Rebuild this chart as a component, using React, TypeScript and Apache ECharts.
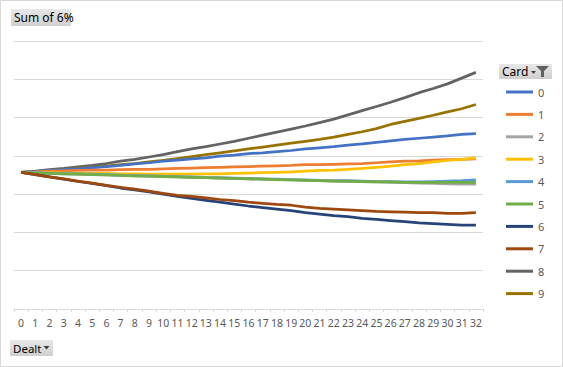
import React, { useEffect, useRef } from "react";
import * as echarts from "echarts";

const categories = Array.from({ length: 33 }, (_, i) => String(i));

const cardNames = ["0", "1", "2", "3", "4", "5", "6", "7", "8", "9"];

const card0 = [3.57, 3.59, 3.62, 3.64, 3.66, 3.69, 3.72, 3.75, 3.79, 3.82, 3.86, 3.89, 3.92, 3.95, 3.99, 4.02, 4.06, 4.08, 4.11, 4.14, 4.18, 4.21, 4.24, 4.28, 4.31, 4.35, 4.39, 4.43, 4.46, 4.49, 4.52, 4.56, 4.58];
const card1 = [3.57, 3.58, 3.6, 3.61, 3.62, 3.63, 3.63, 3.64, 3.65, 3.65, 3.66, 3.67, 3.68, 3.69, 3.7, 3.71, 3.72, 3.73, 3.74, 3.75, 3.77, 3.77, 3.78, 3.79, 3.8, 3.82, 3.84, 3.86, 3.87, 3.89, 3.9, 3.91, 3.92];
const card2 = [3.57, 3.55, 3.54, 3.53, 3.52, 3.51, 3.5, 3.49, 3.48, 3.47, 3.46, 3.45, 3.44, 3.43, 3.42, 3.41, 3.4, 3.39, 3.38, 3.37, 3.36, 3.35, 3.34, 3.33, 3.33, 3.32, 3.31, 3.3, 3.29, 3.28, 3.27, 3.26, 3.26];
const card3 = [3.57, 3.56, 3.56, 3.55, 3.55, 3.54, 3.54, 3.53, 3.53, 3.52, 3.52, 3.52, 3.52, 3.53, 3.53, 3.54, 3.55, 3.56, 3.57, 3.58, 3.6, 3.62, 3.63, 3.65, 3.67, 3.7, 3.73, 3.77, 3.8, 3.84, 3.88, 3.91, 3.95];
const card4 = [3.57, 3.56, 3.55, 3.54, 3.53, 3.52, 3.51, 3.5, 3.49, 3.48, 3.47, 3.46, 3.45, 3.44, 3.43, 3.42, 3.41, 3.4, 3.39, 3.38, 3.37, 3.36, 3.35, 3.35, 3.34, 3.33, 3.33, 3.32, 3.32, 3.33, 3.34, 3.35, 3.37];
const card5 = [3.57, 3.55, 3.54, 3.53, 3.52, 3.51, 3.5, 3.49, 3.48, 3.47, 3.46, 3.45, 3.44, 3.43, 3.42, 3.41, 3.4, 3.39, 3.38, 3.37, 3.36, 3.35, 3.34, 3.34, 3.33, 3.32, 3.32, 3.31, 3.31, 3.31, 3.31, 3.31, 3.31];
const card6 = [3.57, 3.51, 3.45, 3.39, 3.33, 3.28, 3.22, 3.16, 3.11, 3.06, 3.0, 2.94, 2.89, 2.84, 2.79, 2.74, 2.69, 2.65, 2.61, 2.57, 2.52, 2.48, 2.44, 2.41, 2.37, 2.34, 2.31, 2.28, 2.25, 2.23, 2.21, 2.19, 2.19];
const card7 = [3.57, 3.51, 3.45, 3.4, 3.34, 3.29, 3.23, 3.18, 3.13, 3.08, 3.02, 2.97, 2.94, 2.9, 2.86, 2.83, 2.79, 2.76, 2.73, 2.71, 2.66, 2.63, 2.61, 2.59, 2.57, 2.55, 2.54, 2.53, 2.52, 2.52, 2.5, 2.5, 2.52];
const card8 = [3.57, 3.6, 3.64, 3.67, 3.71, 3.75, 3.8, 3.86, 3.91, 3.97, 4.03, 4.11, 4.18, 4.24, 4.31, 4.38, 4.46, 4.54, 4.62, 4.7, 4.78, 4.87, 4.96, 5.07, 5.18, 5.29, 5.4, 5.52, 5.65, 5.76, 5.88, 6.03, 6.18];
const card9 = [3.57, 3.59, 3.62, 3.64, 3.67, 3.7, 3.73, 3.77, 3.8, 3.84, 3.88, 3.93, 3.98, 4.03, 4.08, 4.13, 4.18, 4.23, 4.28, 4.33, 4.38, 4.43, 4.49, 4.56, 4.63, 4.71, 4.82, 4.9, 4.98, 5.06, 5.15, 5.23, 5.34];

const seriesValues = [card0, card1, card2, card3, card4, card5, card6, card7, card8, card9];
const colors = ["#4472C4", "#ED7D31", "#A5A5A5", "#FFC000", "#5B9BD5", "#70AD47", "#264478", "#9E480E", "#636363", "#997300"];

// draw order so that overlaps resemble reference
const drawOrder = [8, 9, 0, 1, 3, 4, 2, 5, 6, 7];

export default function App() {
  const ref = useRef<HTMLDivElement>(null);
  useEffect(() => {
    if (!ref.current) return;
    const chart = echarts.init(ref.current, undefined, { renderer: "svg" });
    const font = "'Noto Sans', sans-serif";
    const btnGrad = new echarts.graphic.LinearGradient(0, 0, 0, 1, [
      { offset: 0, color: "#e8e8e8" },
      { offset: 1, color: "#cfcfcf" },
    ]);
    chart.setOption({
      animation: false,
      backgroundColor: "#ffffff",
      grid: { left: 14, right: 80, top: 41, bottom: 58, containLabel: false },
      xAxis: {
        type: "category",
        data: categories,
        boundaryGap: true,
        axisLine: { lineStyle: { color: "#d9d9d9", width: 1 } },
        axisTick: { show: true, length: 3, lineStyle: { color: "#d9d9d9" } },
        axisLabel: { interval: 0, fontSize: 10.5, color: "#595959", fontFamily: font, margin: 8 },
        splitLine: { show: false },
      },
      yAxis: {
        type: "value",
        min: 0,
        max: 7,
        interval: 1,
        axisLine: { show: false },
        axisTick: { show: false },
        axisLabel: { show: false },
        splitLine: { lineStyle: { color: "#d9d9d9", width: 1 } },
      },
      legend: {
        orient: "vertical",
        left: 501,
        top: 80,
        itemWidth: 27,
        itemHeight: 3,
        itemGap: 8.4,
        icon: "rect",
        data: cardNames,
        textStyle: { fontSize: 11, color: "#595959", fontFamily: font, lineHeight: 14 },
      },
      series: drawOrder.map((k) => ({
        name: cardNames[k],
        type: "line",
        data: seriesValues[k],
        showSymbol: false,
        symbol: "none",
        smooth: false,
        lineStyle: { color: colors[k], width: 2.75 },
        itemStyle: { color: colors[k] },
        z: 2,
      })),
      graphic: [
        {
          type: "rect",
          shape: { x: 0.5, y: 0.5, width: 562, height: 366 },
          style: { fill: "none", stroke: "#d9d9d9", lineWidth: 1 },
          silent: true,
        },
        {
          type: "rect",
          shape: { x: 11, y: 9, width: 60, height: 17 },
          style: { fill: btnGrad },
        },
        {
          type: "text",
          x: 14,
          y: 17.5,
          style: { text: "Sum of 6%", fontSize: 12, fill: "#000000", fontFamily: font, verticalAlign: "middle" },
        },
        {
          type: "rect",
          shape: { x: 10, y: 340, width: 43, height: 16 },
          style: { fill: btnGrad },
        },
        {
          type: "text",
          x: 13,
          y: 348,
          style: { text: "Dealt", fontSize: 11.5, fill: "#000000", fontFamily: font, verticalAlign: "middle" },
        },
        {
          type: "polygon",
          shape: { points: [[43.5, 346], [49.5, 346], [46.5, 349.5]] },
          style: { fill: "#404040" },
        },
        {
          type: "rect",
          shape: { x: 499, y: 64, width: 53, height: 15 },
          style: { fill: btnGrad },
        },
        {
          type: "text",
          x: 502,
          y: 71.5,
          style: { text: "Card", fontSize: 12, fill: "#000000", fontFamily: font, verticalAlign: "middle" },
        },
        {
          type: "polygon",
          shape: { points: [[531, 71], [536, 71], [533.5, 74]] },
          style: { fill: "#404040" },
        },
        {
          type: "polygon",
          shape: { points: [[536, 66], [549, 66], [544, 71], [544, 77], [541, 77], [541, 71]] },
          style: { fill: "#606060" },
        },
      ],
    });
    return () => chart.dispose();
  }, []);
  return (
    <div
      ref={ref}
      style={{ position: "absolute", left: 0, top: 0, width: 563, height: 367 }}
    />
  );
}
